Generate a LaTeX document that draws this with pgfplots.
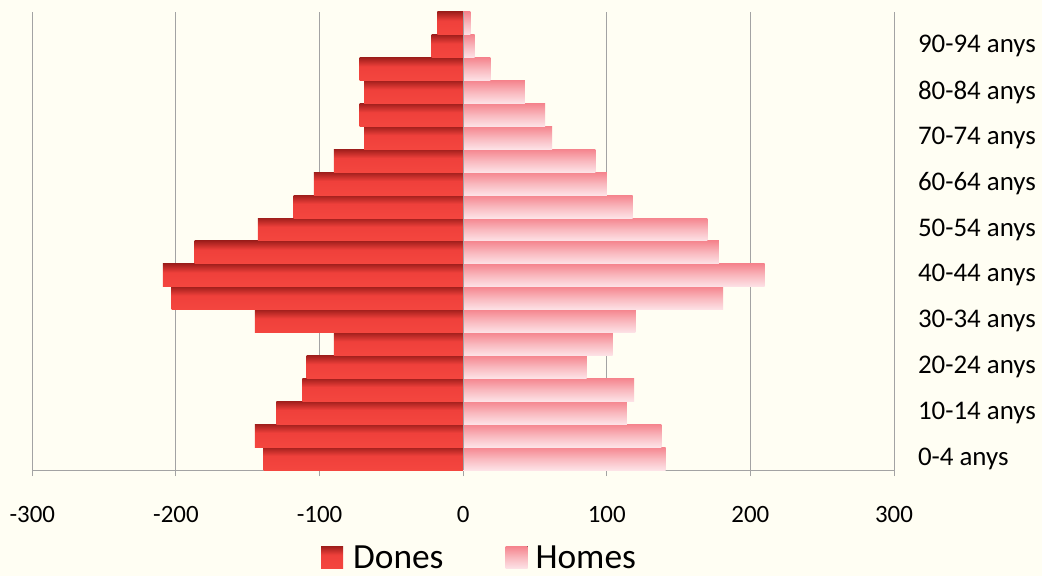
\documentclass[border=0pt]{standalone}
\usepackage{pgfplots}
\usepackage{pgfplotstable}
\pgfplotsset{compat=1.18}
\usepackage{fontspec}
\setmainfont{Carlito}
\definecolor{bgc}{HTML}{FFFEF3}
\definecolor{gridgray}{HTML}{A3A3A3}
\definecolor{dTop}{HTML}{A11F1C}
\definecolor{dMid}{HTML}{EF403B}
\definecolor{dBot}{HTML}{F4463F}
\definecolor{hTop}{HTML}{F5858E}
\definecolor{hMid}{HTML}{F9B8BE}
\definecolor{hBot}{HTML}{FDE3E7}
\pgfdeclareverticalshading{dones}{100bp}{color(0bp)=(dBot); color(25bp)=(dBot); color(56bp)=(dMid); color(75bp)=(dTop); color(100bp)=(dTop)}
\pgfdeclareverticalshading{homes}{100bp}{color(0bp)=(hBot); color(25bp)=(hBot); color(50bp)=(hMid); color(75bp)=(hTop); color(100bp)=(hTop)}
\pgfplotstableread{
a d h
0 -139 141
1 -145 138
2 -130 114
3 -112 119
4 -109 86
5 -90 104
6 -145 120
7 -203 181
8 -209 210
9 -187 178
10 -143 170
11 -118 118
12 -104 100
13 -90 92
14 -69 62
15 -72 57
16 -69 43
17 -72 19
18 -22 8
19 -18 5
}\datatable
\begin{document}
\begin{tikzpicture}
\fill[bgc] (-32.3bp,-106bp) rectangle (1009.7bp,470bp);
\begin{axis}[
  at={(0bp,0bp)}, anchor=south west,
  scale only axis, width=861.7bp, height=458bp,
  xmin=-300, xmax=300, ymin=-0.5, ymax=19.5,
  xtick={-300,-200,...,300},
  ytick={0,2,...,18},
  yticklabels={0-4 anys,10-14 anys,20-24 anys,30-34 anys,40-44 anys,50-54 anys,60-64 anys,70-74 anys,80-84 anys,90-94 anys},
  axis x line*=bottom, axis y line*=right,
  y axis line style={draw=none},
  x axis line style={draw=gridgray, line width=1bp, -},
  xmajorgrids, grid style={draw=gridgray, line width=1bp},
  tick align=outside, major tick length=6bp,
  xtick style={draw=gridgray, line width=1bp},
  ytick style={draw=none},
  /pgf/number format/assume math mode=true,
  xticklabel style={font=\fontsize{25}{25}\selectfont, anchor=base, yshift=-46bp},
  yticklabel style={font=\fontsize{27}{27}\selectfont, anchor=west, xshift=14.5bp},
  legend style={at={(0.335,-0.191)}, anchor=west, draw=none, fill=none, inner sep=0pt,
    legend columns=2, font=\fontsize{35.5}{35.5}\selectfont,
    /tikz/every even column/.append style={column sep=60bp}},
]
\pgfplotsinvokeforeach{0,...,19}{
  \addplot[xbar, bar width=22.9bp, bar shift=0pt, draw=none, shade, shading=dones, forget plot,
    x filter/.expression={\coordindex==#1 ? x : nan}]
    table[x=d, y=a] {\datatable};
  \addplot[xbar, bar width=22.9bp, bar shift=0pt, draw=none, shade, shading=homes, forget plot,
    x filter/.expression={\coordindex==#1 ? x : nan}]
    table[x=h, y=a] {\datatable};
}
\draw[gridgray, line width=1.2bp] (axis cs:0,-0.5) -- (axis cs:0,19.5);
\addlegendimage{legend image code/.code={\fill[shade, shading=dones, draw=none] (0bp,-11bp) rectangle (22bp,11bp); \path[draw=none] (30bp,0bp);}}
\addlegendentry{Dones}
\addlegendimage{legend image code/.code={\fill[shade, shading=homes, draw=none] (0bp,-11bp) rectangle (22bp,11bp); \path[draw=none] (28bp,0bp);}}
\addlegendentry{Homes}
\end{axis}
\pgfresetboundingbox
\path[use as bounding box] (-32.3bp,-106bp) rectangle (1009.7bp,470bp);
\end{tikzpicture}
\end{document}
